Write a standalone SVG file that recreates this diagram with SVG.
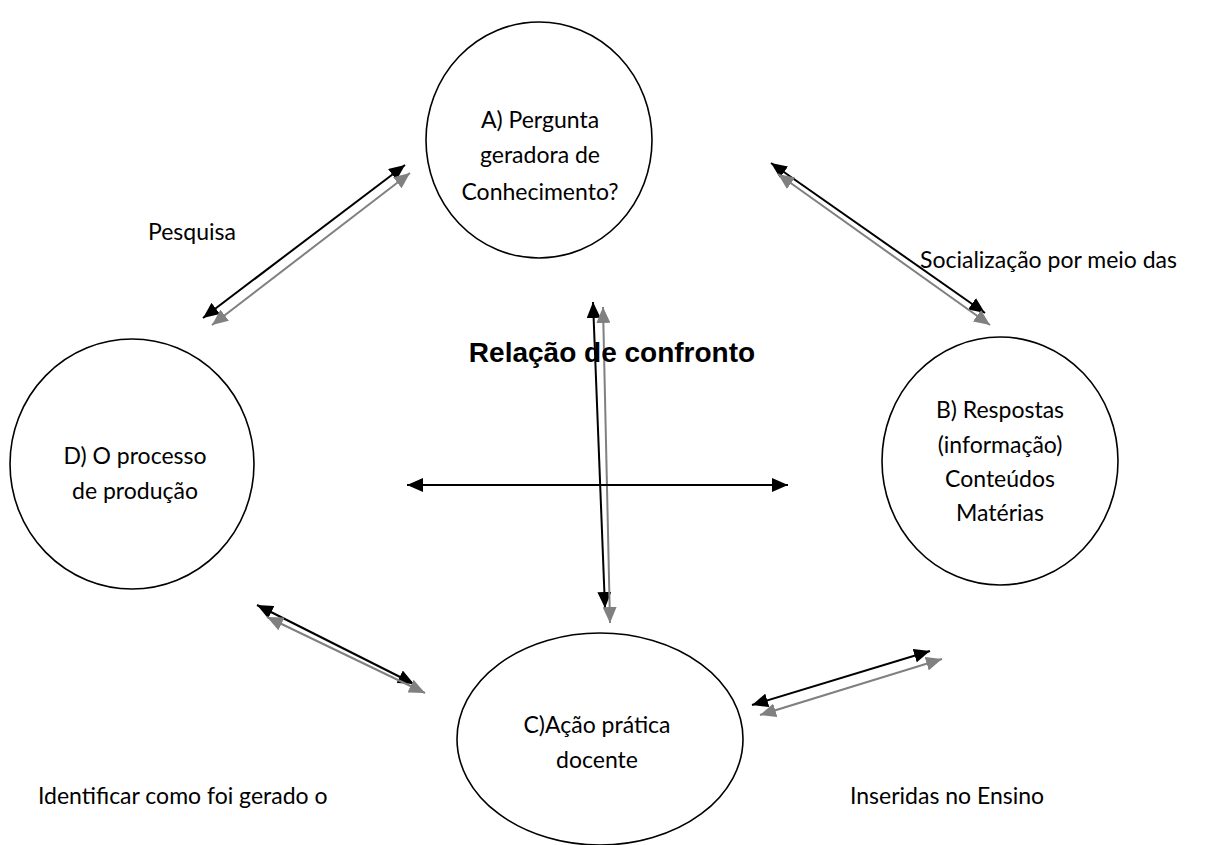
<svg xmlns="http://www.w3.org/2000/svg" width="1227" height="845" viewBox="0 0 1227 845">
<style>
.node ellipse{fill:#fff;stroke:#000;stroke-width:1.6}
text{font-family:Lato,"Open Sans","Liberation Sans",sans-serif;font-size:23px;fill:#000}
.c{text-anchor:middle}
.b{font-family:"Liberation Sans",Arial,sans-serif;font-weight:bold;font-size:28px}
.k{stroke:#000;stroke-width:2;fill:none;marker-start:url(#hk);marker-end:url(#hk)}
.g{stroke:#808080;stroke-width:2;fill:none;marker-start:url(#hg);marker-end:url(#hg)}
</style>
<defs>
<marker id="hk" viewBox="0 0 16 14" refX="16" refY="7" markerWidth="16" markerHeight="14" markerUnits="userSpaceOnUse" orient="auto-start-reverse"><path d="M0,0 L16,7 L0,14 Z" fill="#000"/></marker>
<marker id="hg" viewBox="0 0 16 14" refX="16" refY="7" markerWidth="16" markerHeight="14" markerUnits="userSpaceOnUse" orient="auto-start-reverse"><path d="M0,0 L16,7 L0,14 Z" fill="#808080"/></marker>
</defs>
<rect width="1227" height="845" fill="#fff"/>
<g id="nodeA" class="node">
<ellipse cx="539" cy="140" rx="113" ry="118"/>
<text class="c" x="540" y="128">A) Pergunta</text>
<text class="c" x="540" y="163">geradora de</text>
<text class="c" x="540" y="200">Conhecimento?</text>
</g>
<g id="nodeD" class="node">
<ellipse cx="132" cy="464" rx="122" ry="125"/>
<text class="c" x="135" y="464">D) O processo</text>
<text class="c" x="135" y="499">de produção</text>
</g>
<g id="nodeB" class="node">
<ellipse cx="1000" cy="461" rx="118" ry="124"/>
<text class="c" x="1000" y="418">B) Respostas</text>
<text class="c" x="1000" y="453">(informação)</text>
<text class="c" x="1000" y="487">Conteúdos</text>
<text class="c" x="1000" y="521">Matérias</text>
</g>
<g id="nodeC" class="node">
<ellipse cx="600" cy="739" rx="143" ry="106"/>
<text class="c" x="597" y="733">C)Ação prática</text>
<text class="c" x="597" y="768">docente</text>
</g>
<g id="connectors">
<line class="k" x1="203" y1="318" x2="405" y2="165"/>
<line class="g" x1="212" y1="325" x2="410" y2="173"/>
<line class="k" x1="771" y1="163" x2="985" y2="313"/>
<line class="g" x1="778" y1="174" x2="990" y2="325"/>
<line class="k" x1="593" y1="302" x2="605" y2="608"/>
<line class="g" x1="603" y1="307" x2="610" y2="623"/>
<line class="k" x1="407" y1="485" x2="788" y2="485"/>
<line class="k" x1="257" y1="605" x2="414" y2="684"/>
<line class="g" x1="267" y1="617" x2="425" y2="693"/>
<line class="k" x1="930" y1="651" x2="752" y2="705"/>
<line class="g" x1="942" y1="659" x2="760" y2="715"/>
</g>
<g id="labels">
<text x="148" y="240">Pesquisa</text>
<text x="920" y="268">Socialização por meio das</text>
<text class="b c" x="612" y="362">Relação de confronto</text>
<text x="38" y="804">Identificar como foi gerado o</text>
<text x="850" y="804">Inseridas no Ensino</text>
</g>
</svg>
